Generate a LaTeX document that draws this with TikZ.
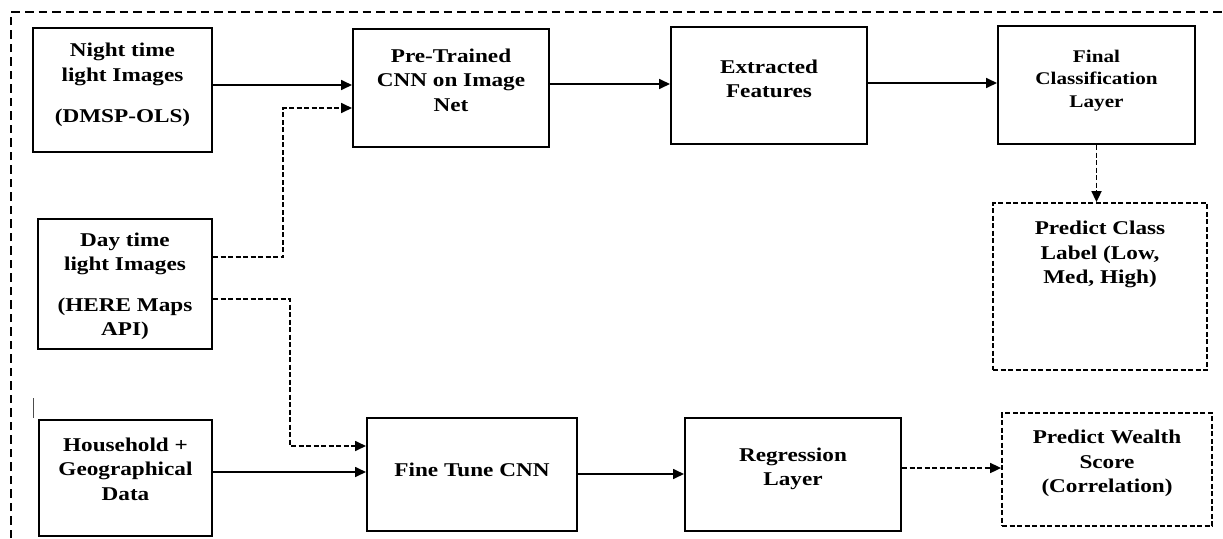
\documentclass[tikz,border=0pt]{standalone}
\usepackage{fontspec}
\newfontfamily\tnr{Liberation Serif}[FakeStretch=1.19]
\usetikzlibrary{arrows.meta}
\newcommand{\bt}[2]{\raisebox{#1}[\height][\depth]{\begin{tabular}{@{}c@{}}#2\end{tabular}}}
\begin{document}
\begin{tikzpicture}[x=1pt,y=-1pt,
  box/.style={draw, line width=2pt, inner sep=0pt, font=\tnr\bfseries\fontsize{19.5}{24.5}\selectfont},
  smallbox/.style={box, font=\tnr\bfseries\fontsize{17.8}{22.5}\selectfont},
  dbox/.style={box, line width=1.8pt, dash pattern=on 5pt off 2.5pt},
  arr/.style={line width=1.7pt, -{Triangle[length=11pt,width=10pt]}},
  darr/.style={arr, dash pattern=on 5pt off 2.5pt},
  frame/.style={line width=1.6pt, dash pattern=on 8.5pt off 5pt}]
\useasboundingbox (0,0) rectangle (1223,538);
\draw[frame] (11,538) -- (11,12) -- (1223,12);
\draw[line width=0.7pt, black!70] (33,398) -- (33,418);

\node[box, minimum width=179pt, minimum height=124pt] (night) at (122.5,90)
  {\bt{5pt}{Night time\\light Images\\[17pt](DMSP-OLS)}};
\node[box, minimum width=196pt, minimum height=118pt] (pre) at (451,88)
  {\bt{6pt}{Pre-Trained\\CNN on Image\\Net}};
\node[box, minimum width=196pt, minimum height=117pt] (ext) at (769,85.5)
  {\bt{5pt}{Extracted\\Features}};
\node[smallbox, minimum width=197pt, minimum height=118pt] (fin) at (1096.5,85)
  {\bt{5pt}{Final\\Classification\\Layer}};
\node[dbox, minimum width=214pt, minimum height=167pt] (pcl) at (1100,286.5)
  {\bt{32pt}{Predict Class\\Label (Low,\\Med, High)}};
\node[box, minimum width=174pt, minimum height=130pt] (day) at (125,284)
  {\bt{-2pt}{Day time\\light Images\\[16pt](HERE Maps\\API)}};
\node[box, minimum width=173pt, minimum height=116pt] (hh) at (125.5,478)
  {\bt{7pt}{Household +\\Geographical\\Data}};
\node[box, minimum width=210pt, minimum height=113pt] (fine) at (472,474.5)
  {\bt{3pt}{Fine Tune CNN}};
\node[box, minimum width=216pt, minimum height=113pt] (reg) at (793,474.5)
  {\bt{6pt}{Regression\\Layer}};
\node[dbox, minimum width=210pt, minimum height=113pt] (pws) at (1107,469.5)
  {\bt{6pt}{Predict Wealth\\Score\\(Correlation)}};

\coordinate (y85) at (0,85);
\coordinate (y84) at (0,84);
\coordinate (y83) at (0,83);
\coordinate (d1) at (0,257);
\coordinate (k1) at (283,108);
\coordinate (d2) at (0,299);
\coordinate (k2) at (290,446);
\coordinate (y472) at (0,472);
\coordinate (y474) at (0,474);
\coordinate (y468) at (0,468);

\draw[arr] (night.east |- y85) -- (pre.west |- y85);
\draw[arr] (pre.east |- y84) -- (ext.west |- y84);
\draw[arr] (ext.east |- y83) -- (fin.west |- y83);
\draw[darr] (fin.south) -- (fin.south |- pcl.north);
\draw[darr] (day.east |- d1) -| (k1) -- (pre.west |- k1);
\draw[darr] (day.east |- d2) -| (k2) -- (fine.west |- k2);
\draw[arr] (hh.east |- y472) -- (fine.west |- y472);
\draw[arr] (fine.east |- y474) -- (reg.west |- y474);
\draw[darr] (reg.east |- y468) -- (pws.west |- y468);
\end{tikzpicture}
\end{document}
